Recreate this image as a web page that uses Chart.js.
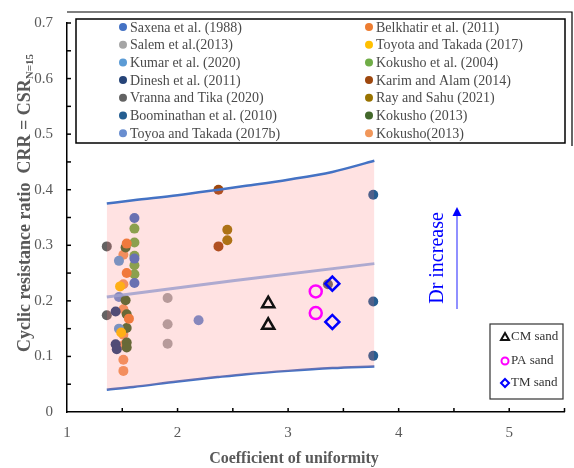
<!DOCTYPE html>
<html>
<head>
<meta charset="utf-8">
<script src="https://cdn.jsdelivr.net/npm/chart.js@4"></script>
<style>
  html, body { margin: 0; padding: 0; background: #fff; }
  #wrap { width: 574px; height: 468px; position: relative; }
</style>
</head>
<body>
<div id="wrap"><canvas id="c" width="574" height="468"></canvas></div>
<script>
// ---------- DATA ----------
const seriesNames = [
    "Saxena et al. (1988)", "Belkhatir et al. (2011)",
    "Salem et al.(2013)", "Toyota and Takada (2017)",
    "Kumar et al. (2020)", "Kokusho et al. (2004)",
    "Dinesh et al. (2011)", "Karim and Alam (2014)",
    "Vranna and Tika (2020)", "Ray and Sahu (2021)",
    "Boominathan et al. (2010)", "Kokusho (2013)",
    "Toyoa and Takada (2017b)", "Kokusho(2013)"
];
const seriesColors = ["#4472C4", "#ED7D31", "#A5A5A5", "#FFC000", "#5B9BD5", "#70AD47", "#264478",
    "#9E480E", "#636363", "#997300", "#255E91", "#43682B", "#698ED0", "#F1975A"];

// [Cu, CRR] pairs per study
const saxena = [[1.61, 0.349], [1.61, 0.276], [1.61, 0.232]];
const belkhatir = [[1.54, 0.303], [1.54, 0.250], [1.56, 0.168]];
const salem = [[1.91, 0.205], [1.91, 0.158], [1.91, 0.123]];
const toyota = [[1.48, 0.226], [1.49, 0.143]];
const kumar = [[1.47, 0.272], [1.47, 0.150]];
const kokusho2004 = [[1.61, 0.330], [1.61, 0.305], [1.61, 0.281], [1.61, 0.264], [1.61, 0.248]];
const dinesh = [[1.44, 0.181], [1.44, 0.122], [1.45, 0.113]];
const karim = [[2.37, 0.400], [2.37, 0.298]];
const vranna = [[1.36, 0.298], [1.36, 0.174], [3.36, 0.230]];
const ray = [[2.45, 0.328], [2.45, 0.309]];
const boominathan = [[3.77, 0.391], [3.77, 0.199], [3.77, 0.101]];
const kokusho2013 = [[1.53, 0.296], [1.53, 0.201], [1.54, 0.176], [1.54, 0.151], [1.54, 0.125], [1.54, 0.116]];
const toyoa = [[1.47, 0.207], [2.19, 0.165]];
const kokusho2013b = [[1.51, 0.283], [1.51, 0.230], [1.51, 0.185], [1.51, 0.139], [1.51, 0.120], [1.51, 0.094], [1.51, 0.074]];
const studyData = [saxena, belkhatir, salem, toyota, kumar, kokusho2004, dinesh,
    karim, vranna, ray, boominathan, kokusho2013, toyoa, kokusho2013b];

// band limits
const bandX = [1.36, 1.6, 2.0, 2.37, 2.62, 3.0, 3.4, 3.78];
const bandUpper = [0.375, 0.381, 0.390, 0.400, 0.407, 0.418, 0.432, 0.452];
const bandLower = [0.040, 0.045, 0.055, 0.063, 0.068, 0.074, 0.079, 0.082];
const trendX = [1.36, 2.5, 3.78];
const trendY = [0.207, 0.236, 0.267];

// this study
const cmSand = [[2.82, 0.195], [2.82, 0.156]];
const paSand = [[3.25, 0.217], [3.25, 0.178]];
const tmSand = [[3.40, 0.231], [3.40, 0.162]];

const xTicks = [1, 2, 3, 4, 5];
const yTicks = [0, 0.1, 0.2, 0.3, 0.4, 0.5, 0.6, 0.7];

// ---------- HELPERS ----------
const toPts = arr => arr.map(p => ({ x: p[0], y: p[1] }));
const zipPts = (xs, ys) => xs.map((x, i) => ({ x, y: ys[i] }));
const SERIF = "'Liberation Serif', 'DejaVu Serif', serif";

const datasets = studyData.map((d, i) => ({
    type: "scatter",
    label: seriesNames[i],
    data: toPts(d),
    backgroundColor: seriesColors[i],
    borderWidth: 0,
    pointRadius: 5,
    order: 10
}));

const upperIdx = datasets.length;
datasets.push({
    type: "line", label: "upper", data: zipPts(bandX, bandUpper),
    borderColor: "#4472C4", borderWidth: 2.5, pointRadius: 0,
    cubicInterpolationMode: "monotone",
    fill: { target: upperIdx + 1 }, backgroundColor: "rgba(253,110,110,0.2)", order: 5
});
datasets.push({
    type: "line", label: "lower", data: zipPts(bandX, bandLower),
    borderColor: "#4472C4", borderWidth: 2.5, pointRadius: 0,
    cubicInterpolationMode: "monotone", fill: false, order: 5
});
datasets.push({
    type: "line", label: "trend", data: zipPts(trendX, trendY),
    borderColor: "rgba(160,160,205,0.85)", borderWidth: 3, pointRadius: 0, fill: false, order: 4
});
datasets.push({
    type: "scatter", label: "CM sand", data: toPts(cmSand), pointStyle: "triangle",
    pointRadius: 7, borderColor: "#111", borderWidth: 2.5, backgroundColor: "rgba(0,0,0,0)", order: 1
});
datasets.push({
    type: "scatter", label: "PA sand", data: toPts(paSand), pointStyle: "circle",
    pointRadius: 6, borderColor: "#FF00FF", borderWidth: 2.5, backgroundColor: "rgba(0,0,0,0)", order: 1
});
datasets.push({
    type: "scatter", label: "TM sand", data: toPts(tmSand), pointStyle: "rectRot",
    pointRadius: 7, borderColor: "#0000FF", borderWidth: 2.5, backgroundColor: "rgba(0,0,0,0)", order: 1
});

// ---------- DECORATIONS ----------
const decor = {
    id: "decor",
    afterDraw(chart) {
        const { ctx, scales: { x, y } } = chart;
        ctx.save();
        ctx.strokeStyle = "#000";
        ctx.lineWidth = 1.5;
        // minor inner ticks
        for (let v = 1.5; v <= 5.5; v += 0.5) {
            const px = x.getPixelForValue(v);
            ctx.beginPath(); ctx.moveTo(px, y.bottom); ctx.lineTo(px, y.bottom - 4); ctx.stroke();
        }
        for (let v = 0.05; v <= 0.701; v += 0.05) {
            const py = y.getPixelForValue(v);
            ctx.beginPath(); ctx.moveTo(x.left, py); ctx.lineTo(x.left + 4, py); ctx.stroke();
        }
        // top frame line
        ctx.lineWidth = 1.2;
        ctx.beginPath(); ctx.moveTo(x.left, 12); ctx.lineTo(572, 12); ctx.lineTo(572, 146); ctx.stroke();

        // legend box (studies)
        ctx.lineWidth = 1.5;
        ctx.strokeRect(76, 19, 489, 124);
        ctx.font = "14px " + SERIF;
        ctx.textBaseline = "middle";
        seriesNames.forEach((name, i) => {
            const col = i % 2, row = Math.floor(i / 2);
            const mx = col === 0 ? 123 : 369;
            const my = 27 + row * 17.7;
            ctx.fillStyle = seriesColors[i];
            ctx.beginPath(); ctx.arc(mx, my, 4, 0, Math.PI * 2); ctx.fill();
            ctx.fillStyle = "#4a4a4a";
            ctx.textAlign = "left";
            ctx.fillText(name, mx + 7, my + 1);
        });

        // legend box (this study)
        ctx.strokeStyle = "#333";
        ctx.lineWidth = 1.2;
        ctx.strokeRect(490, 324, 73, 75);
        ctx.font = "13px " + SERIF;
        ctx.fillStyle = "#333";
        const mk = [["CM sand", 337], ["PA sand", 361], ["TM sand", 383]];
        ctx.lineWidth = 2;
        ctx.strokeStyle = "#111";
        ctx.beginPath(); ctx.moveTo(505, 333); ctx.lineTo(509, 340); ctx.lineTo(501, 340); ctx.closePath(); ctx.stroke();
        ctx.strokeStyle = "#FF00FF";
        ctx.beginPath(); ctx.arc(505, 361, 3.5, 0, Math.PI * 2); ctx.stroke();
        ctx.strokeStyle = "#0000FF";
        ctx.beginPath(); ctx.moveTo(505, 379); ctx.lineTo(509, 383); ctx.lineTo(505, 387); ctx.lineTo(501, 383); ctx.closePath(); ctx.stroke();
        mk.forEach(m => { ctx.fillText(m[0], 511, m[1]); });

        // Dr increase arrow
        ctx.strokeStyle = "#6b6bff";
        ctx.lineWidth = 1.5;
        ctx.beginPath(); ctx.moveTo(457, 309); ctx.lineTo(457, 214); ctx.stroke();
        ctx.fillStyle = "#0000FF";
        ctx.beginPath(); ctx.moveTo(457, 207); ctx.lineTo(461.5, 216); ctx.lineTo(452.5, 216); ctx.closePath(); ctx.fill();
        ctx.save();
        ctx.translate(438, 258);
        ctx.rotate(-Math.PI / 2);
        ctx.textAlign = "center";
        ctx.font = "20px " + SERIF;
        ctx.fillText("Dr increase", 0, 0);
        ctx.restore();

        // axis titles
        ctx.fillStyle = "#595959";
        ctx.font = "bold 16px " + SERIF;
        ctx.textAlign = "center";
        ctx.fillText("Coefficient of uniformity", 294, 459);

        ctx.save();
        ctx.translate(25, 0);
        ctx.rotate(-Math.PI / 2);
        const main = "Cyclic resistance ratio  CRR = CSR";
        const sub = "N=15";
        ctx.font = "bold 18px " + SERIF;
        const w1 = ctx.measureText(main).width;
        ctx.font = "bold 11px " + SERIF;
        const w2 = ctx.measureText(sub).width;
        const start = -203 - (w1 + w2) / 2;
        ctx.textAlign = "left";
        ctx.font = "bold 18px " + SERIF;
        ctx.fillText(main, start, 0);
        ctx.font = "bold 11px " + SERIF;
        ctx.fillText(sub, start + w1, 5);
        ctx.restore();
        ctx.restore();
    }
};

// ---------- CHART ----------
new Chart(document.getElementById("c"), {
    data: { datasets },
    options: {
        responsive: false,
        animation: false,
        layout: { padding: { top: 12, right: 0, left: 0, bottom: 0 } },
        plugins: {
            legend: { display: false },
            tooltip: { enabled: false },
            filler: { drawTime: "beforeDatasetDraw" }
        },
        scales: {
            x: {
                type: "linear", min: 1, max: 5.5,
                afterFit: s => { s.height = 56; },
                afterBuildTicks: s => { s.ticks = xTicks.map(v => ({ value: v })); },
                grid: { display: false, drawTicks: false },
                border: { display: true, color: "#000", width: 1.5 },
                ticks: { padding: 12, color: "#595959", font: { family: SERIF, size: 15 } }
            },
            y: {
                type: "linear", min: 0, max: 0.7,
                afterFit: s => { s.width = 67; },
                afterBuildTicks: s => { s.ticks = yTicks.map(v => ({ value: v })); },
                grid: { display: false, drawTicks: false },
                border: { display: true, color: "#000", width: 1.5 },
                ticks: {
                    padding: 14, color: "#595959", font: { family: SERIF, size: 15 },
                    callback: v => String(Math.round(v * 10) / 10)
                }
            }
        }
    },
    plugins: [decor]
});
</script>
</body>
</html>
